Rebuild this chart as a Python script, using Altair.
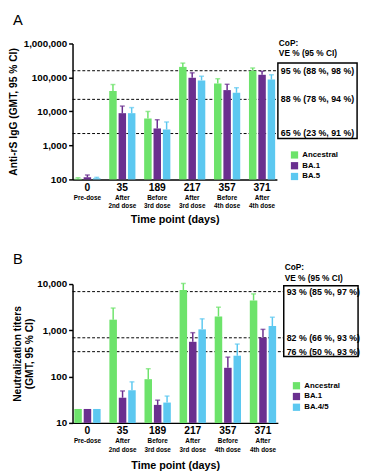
import altair as alt
import pandas as pd

groups = ["0", "35", "189", "217", "357", "371"]
sublabels = ["Pre-dose", "After\n2nd dose", "Before\n3rd dose",
             "After\n3rd dose", "Before\n4th dose", "After\n4th dose"]
colors = ["#6de36b", "#6a2f8f", "#5cc8f0"]

# Panel A: Anti-rS IgG
a_variants = ["Ancestral", "BA.1", "BA.5"]
a_ancestral = [105, 40000, 6200, 205000, 66000, 158000]
a_ancestral_hi = [112, 62000, 10000, 265000, 92000, 190000]
a_ba1 = [115, 8900, 3160, 98000, 42500, 120000]
a_ba1_hi = [135, 14400, 5700, 137000, 63000, 152000]
a_ba5 = [108, 8900, 2950, 82000, 35500, 87000]
a_ba5_hi = [115, 13000, 4900, 109000, 50000, 120000]
a_cop = [158000, 22700, 2240]
a_cop_labels = ["95 % (88 %, 98 %)", "88 % (78 %, 94 %)", "65 % (23 %, 91 %)"]

# Panel B: Neutralization titers
b_variants = ["Ancestral", "BA.1", "BA.4/5"]
b_ancestral = [20, 1700, 88, 7450, 2000, 4420]
b_ancestral_hi = [20, 3030, 148, 10300, 3160, 6130]
b_ba1 = [20, 35, 24.5, 565, 155, 697]
b_ba1_hi = [20, 49, 31, 890, 264, 1050]
b_ba45 = [20, 51, 27.5, 1050, 283, 1240]
b_ba45_hi = [20, 77, 38, 1770, 505, 1920]
b_cop = [6860, 690, 346]
b_cop_labels = ["93 % (85 %, 97 %)", "82 % (66 %, 93 %)", "76 % (50 %, 93 %)"]

FONT = "Liberation Sans"


def panel(letter, variants, series, his, ydomain, yticks, ytitle, cop, cop_labels,
          W, H, box_x, box_pad, legend_xy, header_y, header_lh, ytitle_pad, letter_y,
          xtitle_pad):
    rows = []
    for v, vals, hi in zip(variants, series, his):
        for g, val, h in zip(groups, vals, hi):
            rows.append({"group": g, "variant": v, "value": val, "upper": h})
    df = pd.DataFrame(rows)
    df_err = df[df["upper"] > df["value"]]
    cop_df = pd.DataFrame({"thr": cop, "label": cop_labels})
    sub_df = pd.DataFrame({"group": groups, "sub": sublabels})
    one = pd.DataFrame({"letter": [letter], "header": ["CoP:\nVE % (95 % CI)"]})

    xax = alt.Axis(title="Time point (days)", labelAngle=0, labelFontSize=10.5,
                   labelFontWeight="bold", ticks=False, domainWidth=1.5,
                   domainColor="black", labelPadding=3, titlePadding=xtitle_pad,
                   titleFontSize=11, titleFontWeight="bold",
                   labelColor="black", titleColor="black")
    xenc = alt.X("group:N", sort=groups,
                 scale=alt.Scale(paddingInner=0.25, paddingOuter=0.05), axis=xax)
    xoff = alt.XOffset("variant:N", sort=variants,
                       scale=alt.Scale(domain=variants, paddingInner=0.2))
    yscale = alt.Scale(type="log", domain=ydomain, nice=False)
    yax = alt.Axis(title=ytitle, values=yticks, format=",", grid=False,
                   labelFontSize=10, labelFontWeight="bold", labelColor="black",
                   titleFontSize=10.5, titleFontWeight="bold", titleColor="black",
                   domainWidth=1.5, domainColor="black", tickWidth=1.5,
                   tickColor="black", tickSize=4, titlePadding=ytitle_pad,
                   labelPadding=2)
    cscale = alt.Scale(domain=variants, range=colors)
    color = alt.Color("variant:N", sort=variants, scale=cscale,
                      legend=alt.Legend(title=None, orient="none",
                                        legendX=legend_xy[0], legendY=legend_xy[1],
                                        symbolType="square", symbolSize=55,
                                        symbolStrokeWidth=0, labelFontSize=8,
                                        labelFontWeight="bold", labelColor="black",
                                        rowPadding=3, labelOffset=4))

    rules = alt.Chart(cop_df).mark_rule(strokeDash=[3, 2], color="black", strokeWidth=1).encode(
        y=alt.Y("thr:Q", scale=yscale, axis=yax),
        x=alt.value(0), x2=alt.value(box_x[0]))

    bars = alt.Chart(df).mark_bar().encode(
        x=xenc, xOffset=xoff,
        y=alt.Y("value:Q", scale=yscale, axis=yax),
        y2=alt.datum(ydomain[0]),
        color=color)

    err = alt.Chart(df_err).mark_rule(strokeWidth=1.5).encode(
        x=xenc, xOffset=xoff,
        y=alt.Y("value:Q", scale=yscale, axis=yax), y2="upper:Q",
        color=alt.Color("variant:N", sort=variants, scale=cscale, legend=None))

    caps = alt.Chart(df_err).mark_tick(thickness=1.5, size=5).encode(
        x=xenc, xOffset=xoff,
        y=alt.Y("upper:Q", scale=yscale, axis=yax),
        color=alt.Color("variant:N", sort=variants, scale=cscale, legend=None))

    subs = alt.Chart(sub_df).mark_text(fontSize=6.5, fontWeight="bold", lineBreak="\n",
                                       baseline="top", color="black", lineHeight=8.3,
                                       font=FONT).encode(
        x=xenc, y=alt.value(H + 16), text="sub:N")

    box = alt.Chart(one).mark_rect(filled=False, stroke="black", strokeWidth=1.5,
                                   yOffset=box_pad[0], y2Offset=box_pad[1]).encode(
        x=alt.value(box_x[0]), x2=alt.value(box_x[1]),
        y=alt.datum(cop[0]), y2=alt.datum(cop[-1]))

    cop_txt = alt.Chart(cop_df).mark_text(align="left", baseline="middle", fontSize=9,
                                          fontWeight="bold", color="black", font=FONT).encode(
        x=alt.value(box_x[0] + 3), y=alt.Y("thr:Q", scale=yscale, axis=yax), text="label:N")

    header = alt.Chart(one).mark_text(align="left", baseline="alphabetic", fontSize=8.5,
                                      fontWeight="bold", color="black", lineBreak="\n",
                                      lineHeight=header_lh, font=FONT).encode(
        x=alt.value(box_x[0] + 1), y=alt.value(header_y), text="header:N")

    let = alt.Chart(one).mark_text(align="left", baseline="top", fontSize=15,
                                   color="black", font=FONT).encode(
        x=alt.value(-61), y=alt.value(letter_y), text="letter:N")

    return alt.layer(rules, bars, err, caps, subs, box, cop_txt, header, let).properties(
        width=W, height=H)


pa = panel("A", a_variants, [a_ancestral, a_ba1, a_ba5],
           [a_ancestral_hi, a_ba1_hi, a_ba5_hi], [100, 1000000],
           [100, 1000, 10000, 100000, 1000000], "Anti-rS IgG (GMT, 95 % CI)",
           a_cop, a_cop_labels, 209, 139, (210, 291), (-8, 5), (223, 110), 3, 10, 5, -31, 22)

pb = panel("B", b_variants, [b_ancestral, b_ba1, b_ba45],
           [b_ancestral_hi, b_ba1_hi, b_ba45_hi], [10, 10000],
           [10, 100, 1000, 10000], ["Neutralization titers", "(GMT, 95 % CI)"],
           b_cop, b_cop_labels, 210, 142, (216, 292), (-6, 5), (225, 100), -14, 11, 2, -32, 24)

chart = alt.vconcat(pa, pb, spacing=28).resolve_scale(
    x="independent", y="independent", xOffset="independent", color="independent"
).configure(font=FONT, padding=0).configure_view(stroke=None)

chart.save("out.html", embed_options={"renderer": "svg", "actions": False})
